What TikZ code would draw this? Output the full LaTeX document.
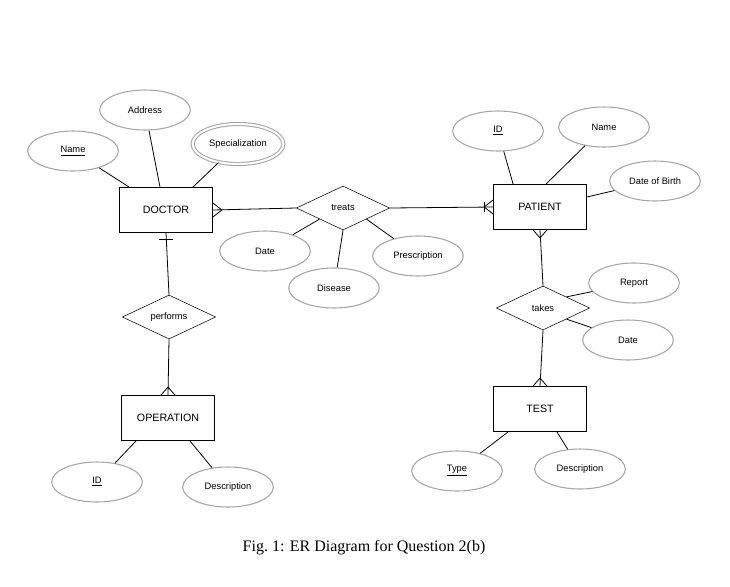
\documentclass[tikz,border=0pt]{standalone}
\usepackage{fontspec}
\setmainfont{Liberation Serif}
\setsansfont{Liberation Sans}
\usetikzlibrary{shapes, calc}
\tikzstyle{attr} = [ellipse, draw=gray!70, thick, minimum width=68pt, minimum height=30pt,
    inner sep=0pt, font=\sffamily\fontsize{7}{8}\selectfont]
\tikzstyle{entity} = [rectangle, draw, minimum width=70pt, minimum height=34pt,
    font=\sffamily\fontsize{8}{9}\selectfont]
\tikzstyle{rel} = [diamond, draw, aspect=2.1, minimum width=70pt, minimum height=33pt,
    inner sep=0pt, font=\sffamily\fontsize{7}{8}\selectfont]
\tikzstyle{link} = [draw, semithick]
\begin{document}
\begin{tikzpicture}[x=0.75pt, y=-0.75pt]
\useasboundingbox (0,0) rectangle (730,586);
% entities
\node [entity] (doctor) at (166,210) {DOCTOR};
\node [entity] (patient) at (540,207) {PATIENT};
\node [entity] (operation) at (168,418) {OPERATION};
\node [entity] (test) at (540,409) {TEST};
% relationships
\node [rel] (treats) at (343,208) {treats};
\node [rel] (performs) at (169,317) {performs};
\node [rel] (takes) at (543,308) {takes};
% attributes
\node [attr] (dname) at (73,151) {\underline{Name}};
\node [attr] (daddr) at (145,110) {Address};
\node [attr, double, double distance=1.5pt] (dspec) at (238,144) {Specialization};
\node [attr] (pid) at (498,131) {\underline{ID}};
\node [attr] (pname) at (604,127) {Name};
\node [attr] (pdob) at (655,181) {Date of Birth};
\node [attr] (tdate) at (265,251) {Date};
\node [attr] (tpres) at (418,256) {Prescription};
\node [attr] (tdis) at (334,288) {Disease};
\node [attr] (oid) at (97,482) {\underline{ID}};
\node [attr] (odesc) at (228,487) {Description};
\node [attr] (kreport) at (634,283) {Report};
\node [attr] (kdate) at (628,340) {Date};
\node [attr] (ttype) at (457,471) {\underline{Type}};
\node [attr] (tdesc) at (580,469) {Description};
\node [font=\fontsize{12}{14}\selectfont] (caption) at (364,548) {Fig.\ 1: ER Diagram for Question 2(b)};

% attribute lines
\path [link] (dname) -- ($(doctor.north west)+(10,0)$);
\path [link] (daddr) -- ($(doctor.north)+(-6,0)$);
\path [link] (dspec) -- ($(doctor.north east)+(-20,0)$);
\path [link] (pid) -- ($(patient.north west)+(20,0)$);
\path [link] (pname) -- ($(patient.north)+(6,0)$);
\path [link] (pdob) -- ($(patient.east)+(0,-10)$);
\path [link] ($(treats.south west)+(0,0)$) -- (tdate);
\path [link] (treats.south) -- (tdis);
\path [link] (treats.south east) -- (tpres);
\path [link] (oid) -- ($(operation.south west)+(15,0)$);
\path [link] (odesc) -- ($(operation.south east)+(-25,0)$);
\path [link] (takes.north east) -- (kreport);
\path [link] (takes.south east) -- (kdate);
\path [link] (ttype) -- ($(test.south west)+(15,0)$);
\path [link] (tdesc) -- ($(test.south east)+(-30,0)$);

% relationship lines
\path [link] (doctor.east) -- (treats.west);
\path [link] (treats.east) -- (patient.west);
\path [link] (doctor.south) -- (performs.north);
\path [link] (performs.south) -- (operation.north);
\path [link] (patient.south) -- (takes.north);
\path [link] (takes.south) -- (test.north);

% crow's feet and bars
\path [link] ($(doctor.east)+(0,-7)$) -- ($(doctor.east)+(9,0)$) -- ($(doctor.east)+(0,7)$);
\path [link] ($(patient.west)+(0,-7)$) -- ($(patient.west)+(-9,0)$) -- ($(patient.west)+(0,7)$);
\path [link] ($(patient.west)+(-9,-5)$) -- ($(patient.west)+(-9,5)$);
\path [link] ($(patient.south)+(-7,0)$) -- ($(patient.south)+(0,8)$) -- ($(patient.south)+(7,0)$);
\path [link] ($(operation.north)+(-7,0)$) -- ($(operation.north)+(0,-8)$) -- ($(operation.north)+(7,0)$);
\path [link] ($(test.north)+(-7,0)$) -- ($(test.north)+(0,-8)$) -- ($(test.north)+(7,0)$);
\path [link] ($(doctor.south)+(-7,6)$) -- ($(doctor.south)+(7,6)$);
\end{tikzpicture}
\end{document}
